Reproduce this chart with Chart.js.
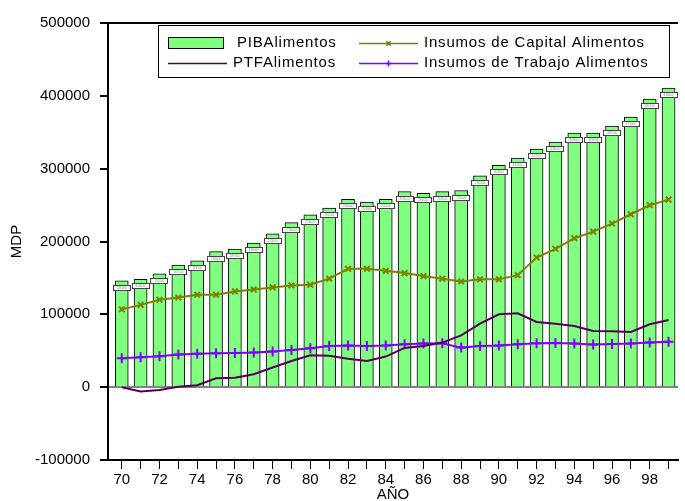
<!DOCTYPE html>
<html>
<head>
<meta charset="utf-8">
<script src="https://cdn.jsdelivr.net/npm/chart.js@4/dist/chart.umd.min.js"></script>
<style>
  html, body { margin: 0; padding: 0; background: #fff; overflow: hidden; }
  #wrap { position: relative; width: 685px; height: 506px; }
</style>
</head>
<body>
<div id="wrap"><canvas id="chart"></canvas></div>
<script>
"use strict";

// years 1970-1999, shown as two digits
const years = [70, 71, 72, 73, 74, 75, 76, 77, 78, 79, 80, 81, 82, 83, 84,
               85, 86, 87, 88, 89, 90, 91, 92, 93, 94, 95, 96, 97, 98, 99];

const pibAlimentos = [146000, 148000, 155500, 167500, 173500, 186000, 189500, 198000, 210500, 226000,
                      236500, 246000, 258000, 254000, 258000, 268500, 266000, 268500, 270000, 290000,
                      304500, 314500, 327000, 336500, 349000, 349000, 358500, 371000, 395500, 410500];

const insumosCapital = [106800, 113000, 120000, 123000, 127000, 127000, 131500, 134000, 137000, 139700,
                        140600, 149000, 162500, 162500, 159700, 156600, 152500, 148900, 145200, 148000,
                        148000, 153800, 178000, 190000, 204500, 213600, 224600, 237400, 249800, 257500];

const ptfAlimentos = [0, -6000, -4000, 500, 2700, 12300, 13000, 17800, 27000, 36000,
                      43800, 43000, 39000, 36000, 42000, 53900, 56600, 61200, 71200, 87200,
                      100000, 101400, 89500, 87200, 84000, 77000, 76700, 75800, 86300, 92200];

const insumosTrabajo = [39700, 41000, 42500, 45000, 46000, 46500, 47000, 47500, 49000, 51000,
                        53400, 56600, 57300, 56600, 57300, 58800, 59800, 60200, 54300, 56600,
                        57300, 58800, 60200, 60700, 59800, 58500, 59400, 59800, 61200, 62500];

const yTicks = [-100000, 0, 100000, 200000, 300000, 400000, 500000];

function toPoints(values) {
  return values.map((v, i) => ({ x: years[i], y: v }));
}

Chart.defaults.font.family = "'Liberation Sans', Arial, sans-serif";
Chart.defaults.color = "#000";

// small white value boxes near the top of each bar
const barLabelBoxes = {
  id: "barLabelBoxes",
  afterDatasetDraw(chart, args) {
    if (args.index !== 0) return;
    const ctx = chart.ctx;
    ctx.save();
    chart.getDatasetMeta(0).data.forEach((bar, i) => {
      const x = Math.round(bar.x) - 8.5;
      const y = Math.round(bar.y) + 4.5;
      ctx.fillStyle = "#fff";
      ctx.fillRect(x, y, 17, 5);
      ctx.strokeStyle = "#444";
      ctx.lineWidth = 1;
      ctx.strokeRect(x, y, 17, 5);
      ctx.fillStyle = "#888";
      ctx.font = "3px 'Liberation Sans'";
      ctx.textAlign = "center";
      ctx.textBaseline = "middle";
      ctx.fillText(String(pibAlimentos[i]), bar.x, y + 2.5);
    });
    ctx.restore();
  }
};

// top frame line + boxed two-column legend
const frameAndLegend = {
  id: "frameAndLegend",
  afterDraw(chart) {
    const ctx = chart.ctx;
    const area = chart.chartArea;
    const ds = chart.data.datasets;
    ctx.save();
    ctx.strokeStyle = "#000";
    ctx.lineWidth = 2;
    ctx.beginPath();
    ctx.moveTo(area.left - 1, area.top);
    ctx.lineTo(area.right, area.top);
    ctx.stroke();

    ctx.fillStyle = "#fff";
    ctx.fillRect(158, 25, 511, 52);
    ctx.lineWidth = 1;
    ctx.strokeRect(158.5, 25.5, 511, 52);

    const items = [[0, 168, 43], [2, 168, 63], [1, 359, 43], [3, 359, 63]];
    ctx.font = "15px 'Liberation Sans'";
    ctx.letterSpacing = "0.8px";
    ctx.textBaseline = "middle";
    ctx.textAlign = "left";
    for (const [i, x, y] of items) {
      const d = ds[i];
      if (d.type === "bar") {
        ctx.fillStyle = d.backgroundColor;
        ctx.fillRect(x, y - 6, 56, 12);
        ctx.strokeStyle = "#000";
        ctx.lineWidth = 1;
        ctx.strokeRect(x + 0.5, y - 5.5, 55, 11);
      } else {
        ctx.strokeStyle = d.borderColor;
        ctx.lineWidth = 1.5;
        ctx.beginPath();
        ctx.moveTo(x, y + 0.5);
        ctx.lineTo(x + 59, y + 0.5);
        ctx.stroke();
        if (d.pointRadius > 0) {
          Chart.helpers.drawPoint(ctx, {
            pointStyle: d.pointStyle, radius: 3, borderWidth: 1.5, rotation: 0
          }, x + 29.5, y + 0.5);
        }
      }
      ctx.fillStyle = "#000";
      ctx.fillText(d.label, d.type === "bar" ? x + 69 : x + 65, y);
    }
    ctx.restore();
  }
};

new Chart(document.getElementById("chart"), {
  data: {
    datasets: [
      {
        type: "bar",
        label: "PIBAlimentos",
        data: toPoints(pibAlimentos),
        backgroundColor: "#80ff80",
        borderColor: "#000",
        borderWidth: 1,
        barThickness: 13,
        order: 2
      },
      {
        type: "line",
        label: "Insumos de Capital Alimentos",
        data: toPoints(insumosCapital),
        borderColor: "#808000",
        borderWidth: 2,
        pointStyle: "crossRot",
        pointRadius: 4,
        pointBorderWidth: 2,
        pointBorderColor: "#808000",
        tension: 0,
        order: 1
      },
      {
        type: "line",
        label: "PTFAlimentos",
        data: toPoints(ptfAlimentos),
        borderColor: "#550055",
        borderWidth: 2,
        pointRadius: 0,
        tension: 0,
        order: 1
      },
      {
        type: "line",
        label: "Insumos de Trabajo Alimentos",
        data: toPoints(insumosTrabajo),
        borderColor: "#8000ff",
        borderWidth: 2,
        pointStyle: "cross",
        pointRadius: 5,
        pointBorderWidth: 2,
        pointBorderColor: "#8000ff",
        tension: 0,
        order: 1
      }
    ]
  },
  options: {
    responsive: true,
    maintainAspectRatio: false,
    animation: false,
    layout: { padding: { top: 23, left: 4, right: 0, bottom: 0 } },
    plugins: {
      legend: { display: false },
      tooltip: { enabled: false }
    },
    scales: {
      x: {
        type: "linear",
        offset: false,
        min: 69.27,
        max: 99.5,
        afterBuildTicks(axis) {
          axis.ticks = years.map(v => ({ value: v }));
        },
        ticks: {
          autoSkip: false,
          maxRotation: 0,
          padding: 2,
          font: { size: 15 },
          callback: v => (v % 2 === 0 ? String(v) : "")
        },
        grid: { offset: false, drawOnChartArea: false, tickColor: "#000", tickLength: 9 },
        border: { color: "#000", width: 2 },
        title: { display: true, text: "AÑO", font: { size: 15 }, padding: { top: 0, bottom: 2 } },
        afterFit(axis) { axis.height = 46; }
      },
      y: {
        min: yTicks[0],
        max: yTicks[yTicks.length - 1],
        afterBuildTicks(axis) {
          axis.ticks = yTicks.map(v => ({ value: v }));
        },
        ticks: {
          padding: 10,
          font: { size: 15 },
          callback: v => String(v)
        },
        grid: {
          drawOnChartArea: true,
          color: c => (c.tick && c.tick.value === 0 ? "#808080" : "rgba(0,0,0,0)"),
          lineWidth: 2,
          tickColor: "#000",
          tickLength: 8
        },
        border: { color: "#000", width: 2 },
        title: { display: true, text: "MDP", font: { size: 15 } },
        afterFit(axis) { axis.width = 104; }
      }
    }
  },
  plugins: [barLabelBoxes, frameAndLegend]
});
</script>
</body>
</html>
